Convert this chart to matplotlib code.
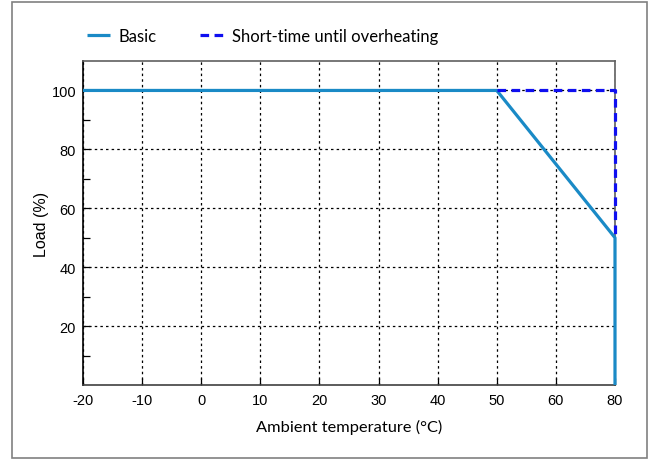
import numpy as np
import matplotlib
matplotlib.use('Agg')
import matplotlib.pyplot as plt
from matplotlib.patches import Rectangle

# tick positions are evenly spaced; the last label reads 80 in the source
x_ticks = [-20, -10, 0, 10, 20, 30, 40, 50, 60, 70]
x_tick_labels = ['-20', '-10', '0', '10', '20', '30', '40', '50', '60', '80']
y_ticks = [20, 40, 60, 80, 100]

basic_x = [-20, 50, 70, 70]
basic_y = [100, 100, 50, 0]

short_x = [50, 70, 70]
short_y = [100, 100, 50]

label_font = 'Lato'
tick_font = 'Liberation Sans'

fig = plt.figure(figsize=(6.48, 4.6), dpi=100)
fig.patches.append(Rectangle((12 / 648, 1 / 460), 635 / 648, 456 / 460,
                             transform=fig.transFigure, fill=False,
                             edgecolor='#808080', linewidth=1.2))

ax = fig.add_axes([83 / 648, 74 / 460, 532 / 648, 324 / 460])

ax.plot(basic_x, basic_y, color='#1a8ac6', linewidth=2.3, label='Basic',
        solid_capstyle='butt', zorder=3, clip_on=False)
ax.plot(short_x, short_y, color='#0f0ff0', linewidth=2.3, linestyle=(0, (2.7, 1.7)),
        label='Short-time until overheating', zorder=4, clip_on=False)

ax.set_xlim(-20, 70)
ax.set_ylim(0, 110)
ax.set_xticks(x_ticks)
ax.set_xticklabels(x_tick_labels)
ax.set_yticks(y_ticks)
ax.set_yticks([10, 30, 50, 70, 90], minor=True)

ax.grid(True, which='major', color='black', linestyle=(0, (2, 2.5)), linewidth=0.9)
ax.tick_params(which='both', direction='in', length=5, width=0.9)
ax.tick_params(axis='x', labelsize=10.5, pad=6)
ax.tick_params(axis='y', labelsize=10.5, pad=5)
for lab in ax.get_xticklabels() + ax.get_yticklabels():
    lab.set_fontfamily(tick_font)

ax.spines['left'].set_color('black')
ax.spines['bottom'].set_color('#404040')
ax.spines['top'].set_color('#606060')
ax.spines['right'].set_color('#606060')
for s in ax.spines.values():
    s.set_linewidth(1.2)

ax.set_xlabel('Ambient temperature (°C)', fontfamily=label_font, fontsize=11.8, labelpad=8)
ax.set_ylabel('Load (%)', fontfamily=tick_font, fontsize=11.5, labelpad=2)

leg = fig.legend(loc='center left', bbox_to_anchor=(87 / 648, 1 - 37 / 460), ncol=2,
                 frameon=False, prop={'family': label_font, 'size': 12},
                 borderpad=0, borderaxespad=0,
                 handlelength=1.35, columnspacing=2.6, handletextpad=0.55)

fig.savefig('out.png', dpi=100)
plt.close(fig)
